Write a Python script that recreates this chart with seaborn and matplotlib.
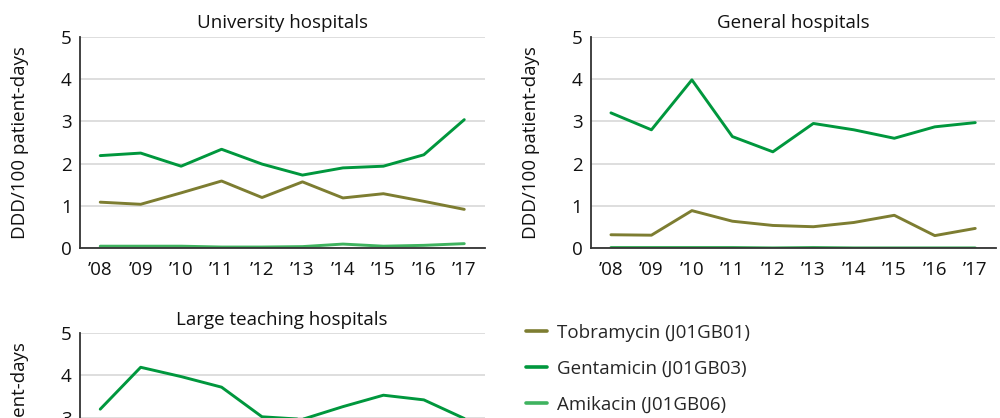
import numpy as np
import pandas as pd
import matplotlib
matplotlib.use("Agg")
import matplotlib.pyplot as plt
import seaborn as sns
from matplotlib.lines import Line2D

years = ["’08", "’09", "’10", "’11", "’12", "’13", "’14", "’15", "’16", "’17"]
drugs = ["Tobramycin (J01GB01)", "Gentamicin (J01GB03)", "Amikacin (J01GB06)"]
panels = ["University hospitals", "General hospitals", "Large teaching hospitals"]

univ_tobra = [1.09, 1.04, 1.31, 1.59, 1.20, 1.57, 1.19, 1.29, 1.11, 0.92]
univ_genta = [2.19, 2.25, 1.94, 2.34, 1.99, 1.73, 1.90, 1.94, 2.21, 3.04]
univ_amika = [0.05, 0.05, 0.05, 0.03, 0.03, 0.04, 0.10, 0.05, 0.07, 0.11]

gen_tobra = [0.32, 0.31, 0.89, 0.64, 0.54, 0.51, 0.61, 0.78, 0.30, 0.47]
gen_genta = [3.20, 2.80, 3.98, 2.64, 2.28, 2.95, 2.80, 2.60, 2.87, 2.97]
gen_amika = [0.02, 0.02, 0.02, 0.02, 0.01, 0.02, 0.01, 0.01, 0.01, 0.01]

large_tobra = [0.60, 0.55, 0.60, 0.65, 0.55, 0.50, 0.55, 0.60, 0.50, 0.55]
large_genta = [3.20, 4.19, 3.97, 3.72, 3.02, 2.96, 3.26, 3.53, 3.42, 2.98]
large_amika = [0.05, 0.05, 0.05, 0.04, 0.04, 0.04, 0.05, 0.05, 0.05, 0.05]

colors = ["#7d7d31", "#00973d", "#3fb35f"]

rows = []
for panel, series in zip(panels, [
        (univ_tobra, univ_genta, univ_amika),
        (gen_tobra, gen_genta, gen_amika),
        (large_tobra, large_genta, large_amika)]):
    for drug, vals in zip(drugs, series):
        for i, (y, v) in enumerate(zip(years, vals)):
            rows.append({"panel": panel, "drug": drug, "x": i, "year": y, "value": v})
df = pd.DataFrame(rows)

sns.set_style("white")
plt.rcParams["font.family"] = ["Open Sans", "DejaVu Sans"]

fig = plt.figure(figsize=(10, 4.18), dpi=100)
H = 418.0
def rect(left, top, right, bottom):
    return [left / 1000, 1 - bottom / H, (right - left) / 1000, (bottom - top) / H]

axes = [
    fig.add_axes(rect(80, 36.7, 484.5, 248.3)),
    fig.add_axes(rect(590.7, 36.7, 995.5, 248.3)),
    fig.add_axes(rect(80, 333, 484.5, 544.6)),
]

FS = 13.5
for k, (ax, panel) in enumerate(zip(axes, panels)):
    sub = df[df.panel == panel]
    sns.lineplot(data=sub, x="x", y="value", hue="drug", hue_order=drugs,
                 palette=colors, linewidth=2.1, ax=ax, legend=False)
    ax.set_xlim(-0.5, 9.5)
    ax.set_ylim(0, 5)
    ax.set_yticks([0, 1, 2, 3, 4, 5])
    ax.set_xticks(range(len(years)))
    ax.set_xticklabels(years if k < 2 else [""] * len(years))
    ax.grid(axis="y", color="#d4d4d4", linewidth=1.1)
    ax.set_axisbelow(True)
    for s in ["top", "right"]:
        ax.spines[s].set_visible(False)
    for s in ["left", "bottom"]:
        ax.spines[s].set_color("#333333")
        ax.spines[s].set_linewidth(1.3)
    ax.tick_params(axis="y", length=0, labelsize=FS, colors="#111111", pad=6)
    ax.tick_params(axis="x", length=0, labelsize=FS, colors="#111111", pad=9)
    ax.set_xlabel("")
    ax.set_ylabel("DDD/100 patient-days", fontsize=FS, color="#111111", labelpad=23)
    ax.set_title(panel, fontsize=FS, color="#111111", pad=6)

handles = [Line2D([0], [0], color=c, lw=2.6) for c in colors]
fig.legend(handles, drugs, loc="upper left", bbox_to_anchor=(0.526, 1 - 324 / H),
           frameon=False, fontsize=FS, handlelength=1.12, handletextpad=0.55,
           labelspacing=0.95, borderaxespad=0, borderpad=0)

fig.savefig("out.png", dpi=100)
